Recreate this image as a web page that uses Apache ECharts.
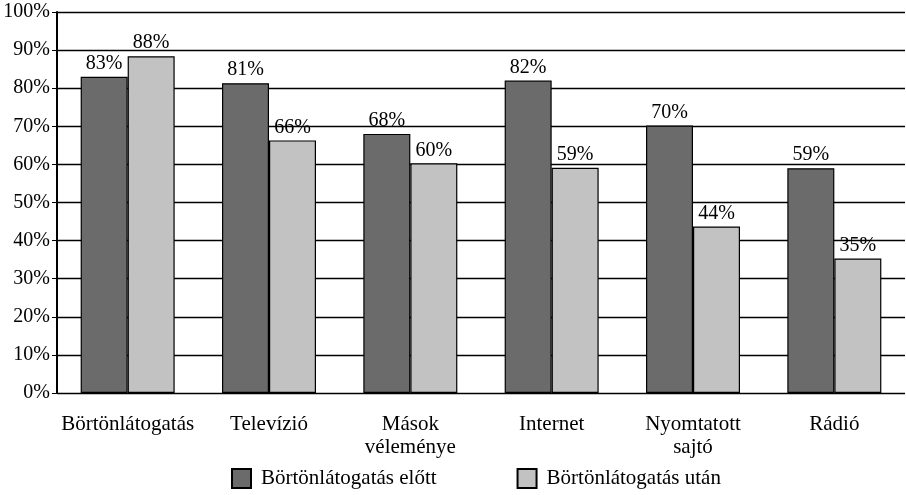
<!DOCTYPE html>
<html>
<head>
<meta charset="utf-8">
<script src="https://cdn.jsdelivr.net/npm/echarts@6/dist/echarts.min.js"></script>
<style>
  html, body { margin: 0; padding: 0; background: #fff; }
  #chart { width: 906px; height: 495px; }
</style>
</head>
<body>
<div id="chart"></div>
<script>
const categories = ["Börtönlátogatás", "Televízió", "Mások\nvéleménye", "Internet", "Nyomtatott\nsajtó", "Rádió"];
const before = [83.0, 81.3, 68.0, 82.0, 70.2, 59.0];
const after = [88.4, 66.3, 60.3, 59.1, 43.7, 35.3];
const seriesNames = ["Börtönlátogatás előtt", "Börtönlátogatás után"];

const FONT = "'Liberation Serif', 'DejaVu Serif', serif";

function pctLabel(p) {
    return Math.round(p.value) + "%";
}

const chart = echarts.init(document.getElementById("chart"));
chart.setOption({
    animation: false,
    textStyle: { fontFamily: FONT, color: "#000" },
    grid: { left: 57, right: 1, top: 12, bottom: 102, containLabel: false },
    legend: {
        top: 463,
        left: 226,
        itemWidth: 19,
        itemHeight: 19,
        itemGap: 80,
        icon: "rect",
        textStyle: { fontFamily: FONT, fontSize: 21, color: "#000", padding: [0, 0, 0, 5] },
        data: seriesNames
    },
    xAxis: {
        type: "category",
        data: categories,
        axisLine: { show: false },
        axisTick: { show: false },
        axisLabel: {
            fontFamily: FONT, fontSize: 21, color: "#000",
            margin: 20, lineHeight: 23, interval: 0
        }
    },
    yAxis: {
        type: "value",
        min: 0,
        max: 100,
        interval: 10,
        axisLine: { show: true, lineStyle: { color: "#000", width: 2 } },
        axisTick: { show: true, length: 5, lineStyle: { color: "#000", width: 1 } },
        axisLabel: {
            fontFamily: FONT, fontSize: 20, color: "#000", margin: 7,
            formatter: v => v + "%"
        },
        splitLine: { show: true, lineStyle: { color: "#000", width: 1.3 } }
    },
    series: [
        {
            name: seriesNames[0],
            type: "bar",
            data: before,
            barWidth: 47,
            barGap: "0%",
            itemStyle: { color: "#6b6b6b", borderColor: "#000", borderWidth: 1.2 },
            label: {
                show: true, position: "top", distance: 3,
                fontFamily: FONT, fontSize: 20, color: "#000",
                formatter: pctLabel
            }
        },
        {
            name: seriesNames[1],
            type: "bar",
            data: after,
            barWidth: 47,
            barGap: "0%",
            itemStyle: { color: "#c2c2c2", borderColor: "#000", borderWidth: 1.2 },
            label: {
                show: true, position: "top", distance: 3,
                fontFamily: FONT, fontSize: 20, color: "#000",
                formatter: pctLabel
            }
        }
    ]
});
</script>
</body>
</html>
